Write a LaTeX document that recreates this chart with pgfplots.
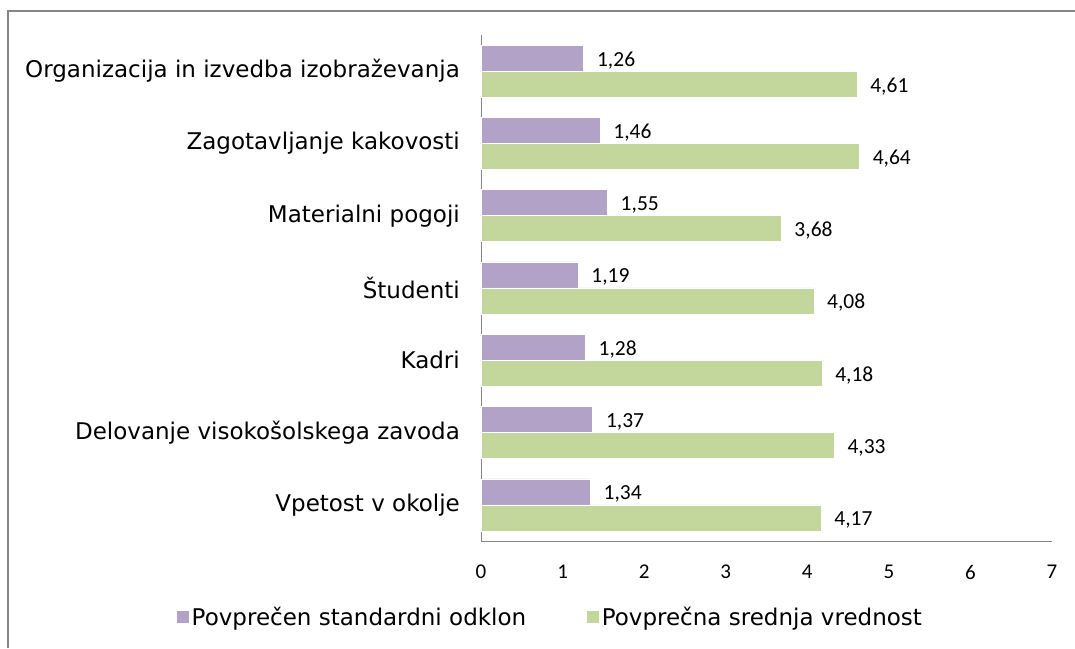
\documentclass[border=0pt]{standalone}
\usepackage{fontspec}
\setmainfont{DejaVu Sans}
\newfontfamily\carlito{Carlito}
\usepackage{pgfplots}
\pgfplotsset{compat=1.18}
\definecolor{pur}{HTML}{B3A2C7}
\definecolor{grn}{HTML}{C3D69B}
\definecolor{axgray}{HTML}{868686}
\begin{document}
\begin{tikzpicture}
\path[use as bounding box] (0,0) rectangle (1075pt,648pt);
\draw[axgray, line width=1.5pt] (8pt,0) -- (8pt,637pt) -- (1075pt,637pt);
\begin{axis}[
  at={(481pt,107pt)}, anchor=south west,
  scale only axis, width=571pt, height=506pt,
  xmin=0, xmax=7, ymin=-0.5, ymax=6.5,
  xbar, bar width=0.36,
  axis x line=bottom, axis y line=left,
  axis line style={-, draw=axgray, line width=1pt},
  xtick={0,1,2,3,4,5,6,7}, xticklabels={0,1,2,3,4,5,6,7},
  ytick={0,1,2,3,4,5,6},
  yticklabels={Vpetost v okolje, Delovanje visokošolskega zavoda, Kadri, Študenti, Materialni pogoji, Zagotavljanje kakovosti, Organizacija in izvedba izobraževanja},
  major tick length=0pt,
  xticklabel style={font=\carlito\fontsize{21}{25}\selectfont, inner sep=0pt, yshift=-24pt},
  yticklabel style={font=\fontsize{23}{27}\selectfont, inner sep=0pt, xshift=-21pt},
  /pgf/number format/assume math mode=true,
  point meta=x,
  nodes near coords={\pgfmathprintnumber[use comma,fixed,fixed zerofill,precision=2]{\pgfplotspointmeta}},
  nodes near coords style={font=\carlito\fontsize{21.5}{25}\selectfont, inner sep=0pt, anchor=west, xshift=13pt, yshift=-2pt, text=black},
  legend columns=2,
  legend style={at={(0.1226,-0.150)}, anchor=center, draw=none, fill=none,
    font=\fontsize{23}{27}\selectfont, nodes={inner sep=3pt},
    /tikz/every even column/.append style={column sep=58pt}},
]
\addplot[fill=pur, draw=white, line width=0.6pt, bar shift=0.18,
  legend image code/.code={\fill[pur] (0pt,-5.5pt) rectangle (11pt,5.5pt);}]
  coordinates {(1.34,0) (1.37,1) (1.28,2) (1.19,3) (1.55,4) (1.46,5) (1.26,6)};
\addlegendentry{Povprečen standardni odklon}
\addplot[fill=grn, draw=white, line width=0.6pt, bar shift=-0.18,
  legend image code/.code={\fill[grn] (0pt,-5.5pt) rectangle (11pt,5.5pt);}]
  coordinates {(4.17,0) (4.33,1) (4.18,2) (4.08,3) (3.68,4) (4.64,5) (4.61,6)};
\addlegendentry{Povprečna srednja vrednost}
\end{axis}
\end{tikzpicture}
\end{document}
